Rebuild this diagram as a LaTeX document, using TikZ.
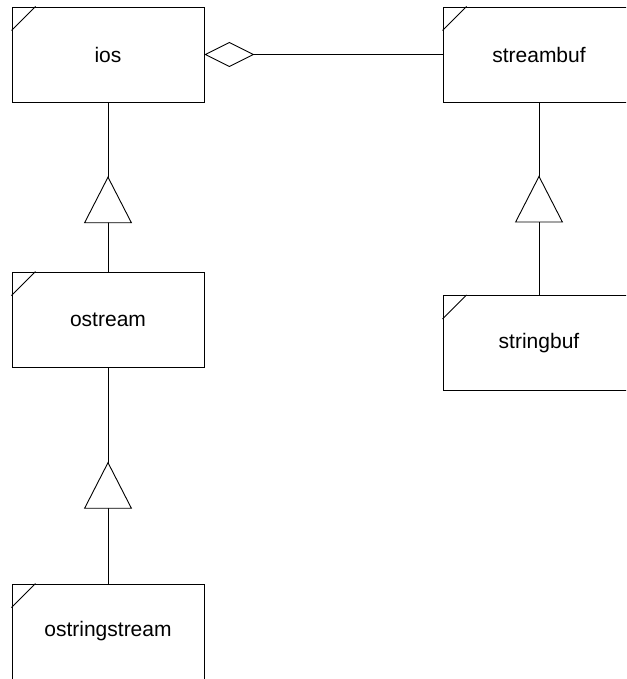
\documentclass[tikz,border=0pt]{standalone}
\usepackage{fontspec}
\setmainfont{Liberation Sans}
\usetikzlibrary{arrows.meta,decorations.markings}
\begin{document}
\begin{tikzpicture}[x=1pt,y=-1pt,line width=0.9pt,
  cls/.style={draw,rectangle,minimum width=192pt,minimum height=95pt,inner sep=0pt,
    font=\fontsize{21}{25}\selectfont,
    append after command={
      ([yshift=-24pt]\tikzlastnode.north west) edge[draw,-] ([xshift=24pt]\tikzlastnode.north west)}},
  gen/.style={postaction={decorate},decoration={markings,
    mark=at position #1 with {\arrow{Triangle[length=47pt,width=48pt,fill=white]}}}},
  agg/.style={-{Diamond[length=50pt,width=25pt,fill=white]}}]
\clip (0,0) rectangle (626,679);
\useasboundingbox (0,0) rectangle (626,679);
\node[cls] (ios) at (108,54.5) {ios};
\node[cls] (streambuf) at (539,54.5) {streambuf};
\node[cls] (ostream) at (108,319.5) {ostream};
\node[cls] (stringbuf) at (539,343) {stringbuf};
\node[cls] (ostringstream) at (108,631.5) {ostringstream};
\draw[agg] (streambuf.west) -- (ios.east);
\draw[gen=0.564] (ostream.north) -- (ios.south);
\draw[gen=0.621] (stringbuf.north) -- (streambuf.south);
\draw[gen=0.564] (ostringstream.north) -- (ostream.south);
\end{tikzpicture}
\end{document}
